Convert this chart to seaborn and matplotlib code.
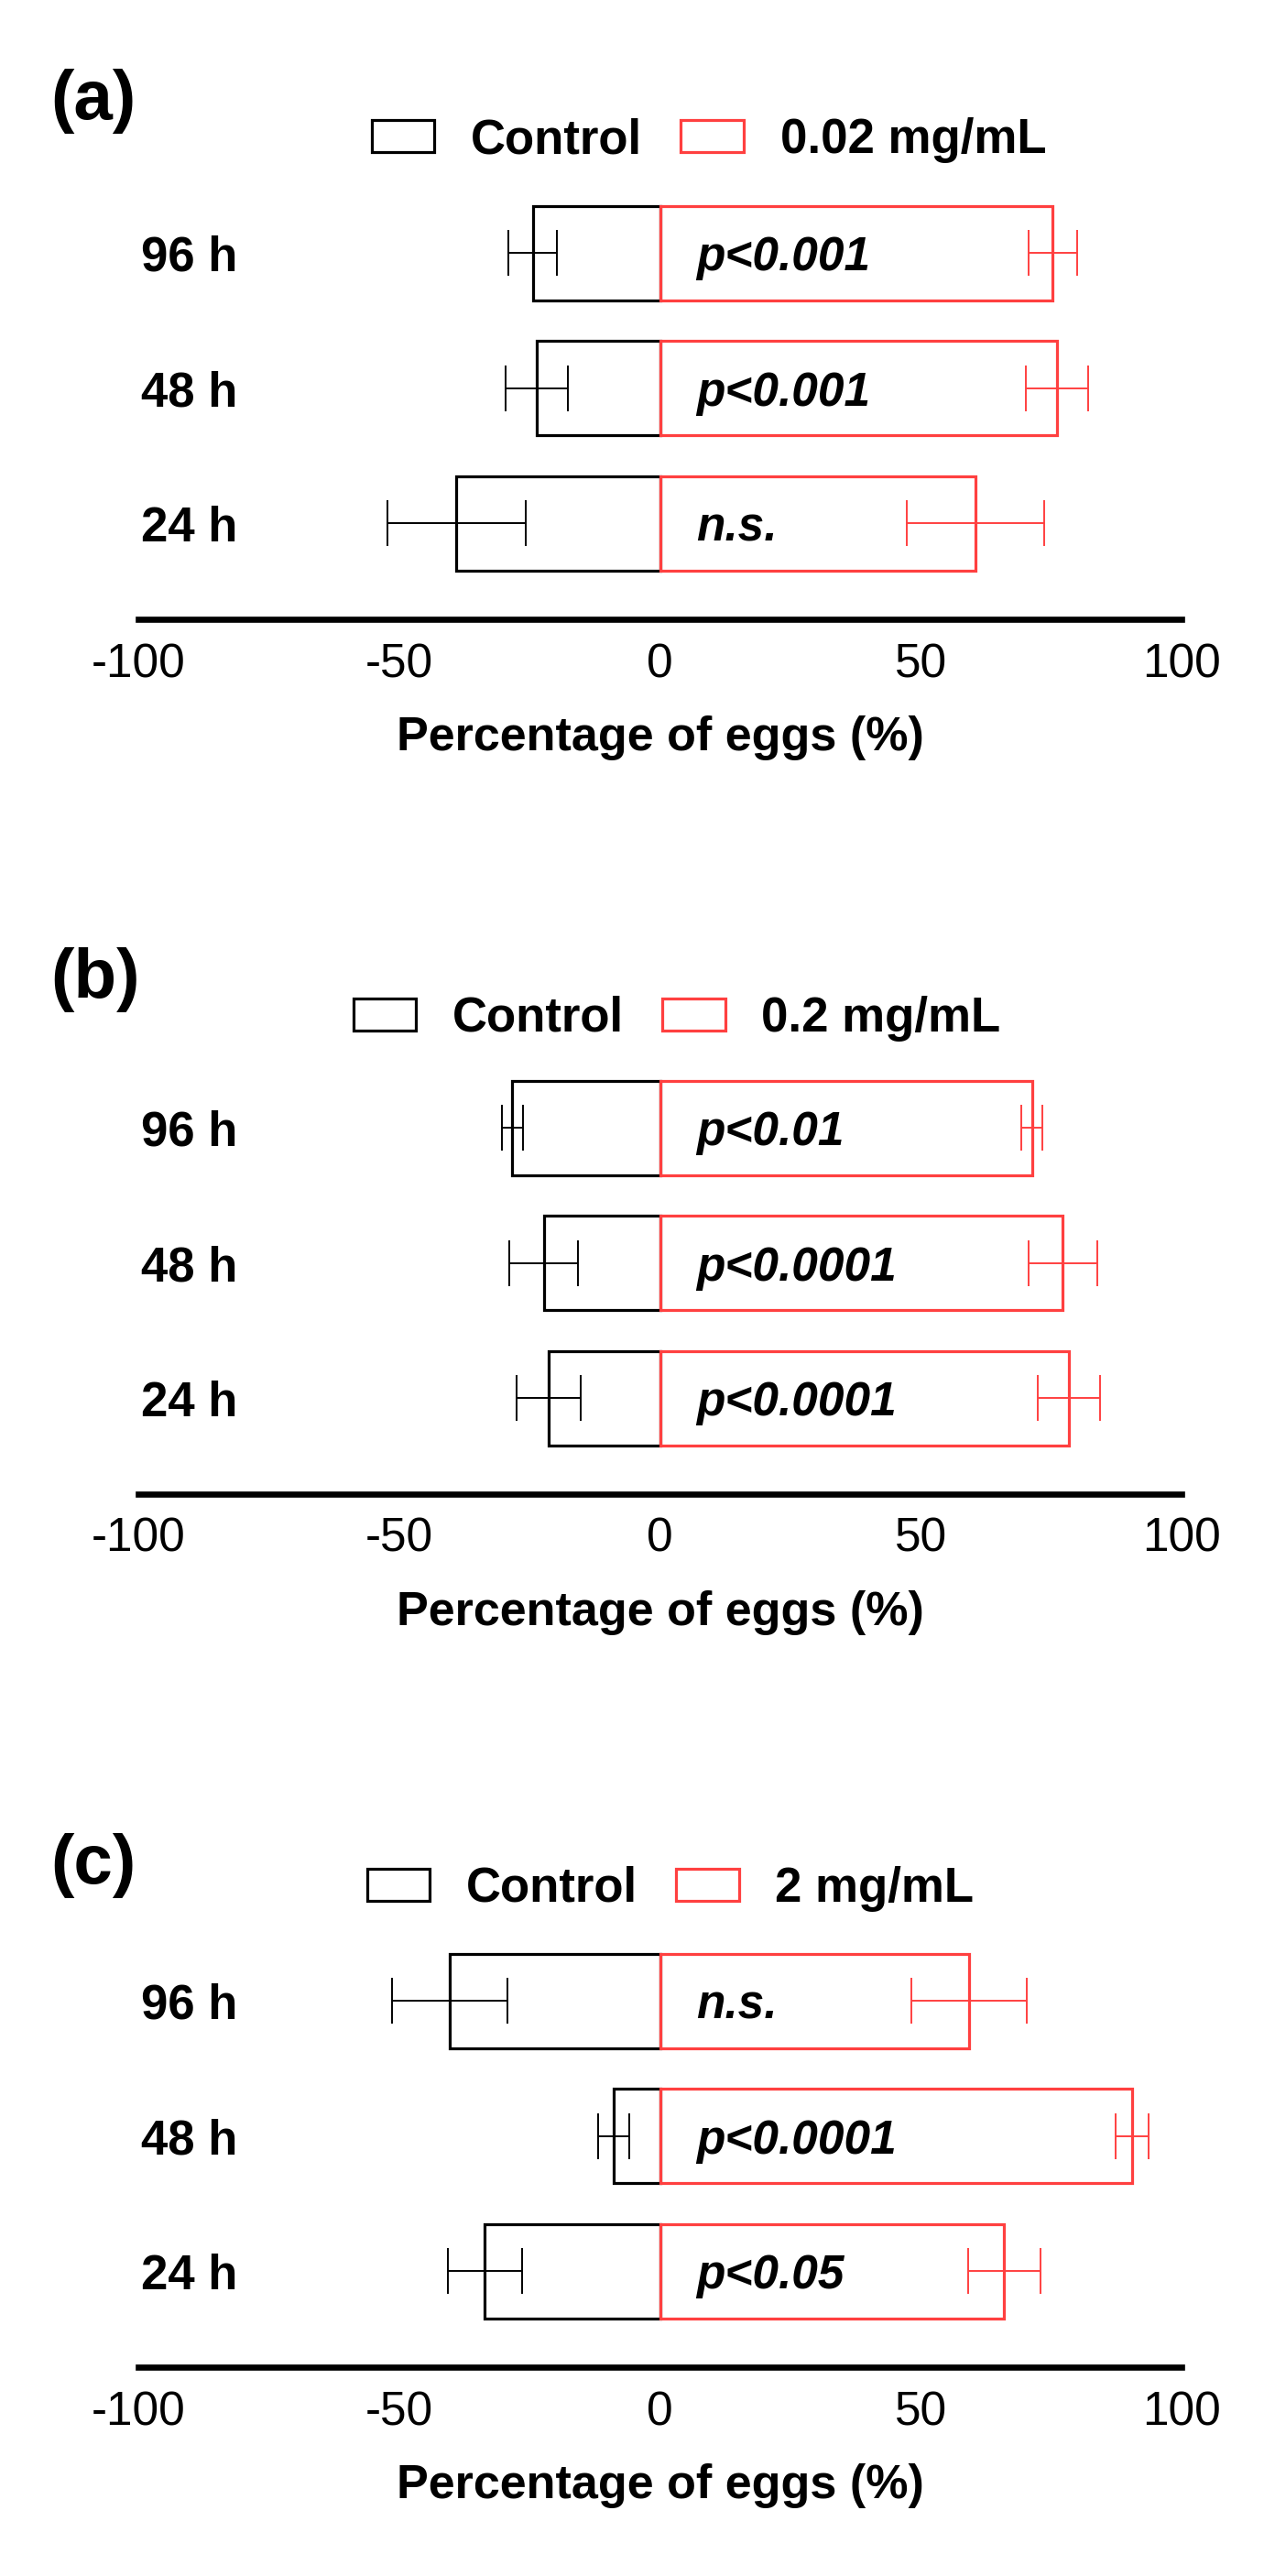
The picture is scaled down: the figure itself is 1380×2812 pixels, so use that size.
import pandas as pd
import matplotlib
matplotlib.use("Agg")
import matplotlib.pyplot as plt
import seaborn as sns

# =============================================================================
# DATA
# =============================================================================

TIMES = ['96 h', '48 h', '24 h']
PANELS = ['(a)', '(b)', '(c)']
DOSES = ['0.02 mg/mL', '0.2 mg/mL', '2 mg/mL']

CONTROL_A = [-24.4, -23.6, -39.0]
CONTROL_ERR_A = [4.6, 5.9, 13.2]
TREAT_A = [75.3, 76.1, 60.5]
TREAT_ERR_A = [4.6, 6.0, 13.2]
PVAL_A = ['p<0.001', 'p<0.001', 'n.s.']

CONTROL_B = [-28.3, -22.3, -21.3]
CONTROL_ERR_B = [2.0, 6.6, 6.1]
TREAT_B = [71.3, 77.2, 78.4]
TREAT_ERR_B = [2.0, 6.6, 6.0]
PVAL_B = ['p<0.01', 'p<0.0001', 'p<0.0001']

CONTROL_C = [-40.3, -8.9, -33.6]
CONTROL_ERR_C = [11.1, 3.0, 7.1]
TREAT_C = [59.3, 90.5, 66.0]
TREAT_ERR_C = [11.1, 3.1, 7.0]
PVAL_C = ['n.s.', 'p<0.0001', 'p<0.05']

X_TICKS = [-100, -50, 0, 50, 100]
XLABEL = 'Percentage of eggs (%)'

# =============================================================================
# STYLE / LAYOUT
# =============================================================================

W, H = 1380, 2812
RED = '#FF4040'
BLACK = '#000000'

# axis line y-position (px from top), legend centre (px), panel label centre y (px)
AXIS_Y = [676, 1631, 2584]
LEGEND_XY = [(774, 153), (739, 1112), (732, 2062)]
LABEL_Y = [111, 1070, 2037]

AX_LEFT, AX_RIGHT = 151, 1290
AX_HEIGHT = 473.5

sns.set_style('white')
plt.rcParams['font.family'] = ['Liberation Sans', 'DejaVu Sans']
plt.rcParams['text.color'] = BLACK
plt.rcParams['axes.labelcolor'] = BLACK
plt.rcParams['xtick.color'] = BLACK
plt.rcParams['ytick.color'] = BLACK


def draw_panel(fig, i, control, control_err, treat, treat_err, pvals):
    bottom = (H - AXIS_Y[i]) / H
    ax = fig.add_axes([AX_LEFT / W, bottom, (AX_RIGHT - AX_LEFT) / W, AX_HEIGHT / H])

    dose = DOSES[i]
    df = pd.DataFrame({
        'Time': TIMES * 2,
        'Group': ['Control'] * len(TIMES) + [dose] * len(TIMES),
        'Value': control + treat,
    })
    sns.barplot(data=df, x='Value', y='Time', hue='Group', order=TIMES,
                hue_order=['Control', dose], palette={'Control': BLACK, dose: RED},
                dodge=False, fill=False, width=0.70, linewidth=2.3,
                errorbar=None, ax=ax)

    ypos = list(range(len(TIMES)))
    ax.errorbar(control, ypos, xerr=control_err, fmt='none', ecolor=BLACK,
                elinewidth=1.4, capsize=18, capthick=1.4, zorder=3)
    ax.errorbar(treat, ypos, xerr=treat_err, fmt='none', ecolor=RED,
                elinewidth=1.4, capsize=18, capthick=1.4, zorder=3)

    for y, txt in zip(ypos, pvals):
        ax.text(7, y, txt, ha='left', va='center_baseline', fontsize=37,
                fontweight='bold', fontstyle='italic', color=BLACK)

    ax.set_xlim(-100, 100)
    ax.set_ylim(2.71, -0.5)
    ax.set_xticks(X_TICKS)
    ax.set_xticklabels([str(t) for t in X_TICKS], fontsize=37)
    ax.set_yticks(ypos)
    ax.set_yticklabels(TIMES, fontsize=38, fontweight='bold')
    ax.set_ylabel('')
    ax.set_xlabel(XLABEL, fontsize=37.5, fontweight='bold', labelpad=22)

    for side in ['left', 'right', 'top']:
        ax.spines[side].set_visible(False)
    ax.spines['bottom'].set_linewidth(4.8)
    ax.spines['bottom'].set_color(BLACK)
    ax.spines['bottom'].set_capstyle('projecting')
    ax.tick_params(axis='x', direction='out', length=8, width=4.8, pad=10, color=BLACK)
    ax.tick_params(axis='y', length=0, pad=-78)
    ax.patch.set_alpha(0)

    handles, labels = ax.get_legend_handles_labels()
    leg = ax.legend(handles, labels, ncol=2, frameon=False, loc='center',
                    bbox_to_anchor=(LEGEND_XY[i][0] / W, 1 - LEGEND_XY[i][1] / H),
                    bbox_transform=fig.transFigure,
                    prop={'size': 38, 'weight': 'bold'},
                    handlelength=1.3, handleheight=0.63, handletextpad=0.75,
                    columnspacing=0.8)
    for p in leg.get_patches():
        p.set_linewidth(2.3)
        p.set_fill(False)

    fig.text(55 / W, 1 - LABEL_Y[i] / H, PANELS[i], ha='left', va='center',
             fontsize=55, fontweight='bold')
    return ax


def main():
    fig = plt.figure(figsize=(W / 100, H / 100), dpi=100)
    fig.patch.set_facecolor('white')

    draw_panel(fig, 0, CONTROL_A, CONTROL_ERR_A, TREAT_A, TREAT_ERR_A, PVAL_A)
    draw_panel(fig, 1, CONTROL_B, CONTROL_ERR_B, TREAT_B, TREAT_ERR_B, PVAL_B)
    draw_panel(fig, 2, CONTROL_C, CONTROL_ERR_C, TREAT_C, TREAT_ERR_C, PVAL_C)

    fig.savefig('out.png', dpi=100)
    plt.close(fig)


if __name__ == "__main__":
    main()
